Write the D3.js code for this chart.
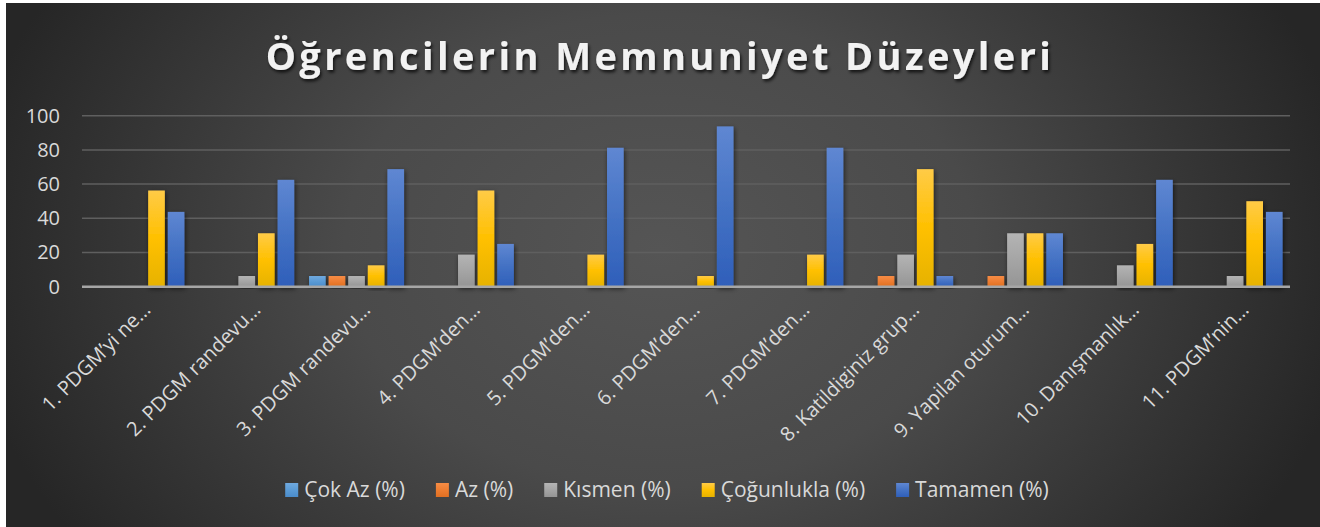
<!DOCTYPE html>
<html>
<head>
<meta charset="utf-8">
<script src="https://cdn.jsdelivr.net/npm/d3@7"></script>
<style>
  body { margin: 0; background: #ffffff; }
  svg { display: block; }
</style>
</head>
<body>
<script>
// Data
var categories = ["1. PDGM’yi ne…", "2. PDGM randevu…", "3. PDGM randevu…", "4. PDGM’den…",
                  "5. PDGM’den…", "6. PDGM’den…", "7. PDGM’den…", "8. Katildiginiz grup…",
                  "9. Yapilan oturum…", "10. Danışmanlık…", "11. PDGM’nin…"];
var seriesNames = ["Çok Az (%)", "Az (%)", "Kısmen (%)", "Çoğunlukla (%)", "Tamamen (%)"];
var cokAz      = [0, 0, 6.25, 0, 0, 0, 0, 0, 0, 0, 0];
var az         = [0, 0, 6.25, 0, 0, 0, 0, 6.25, 6.25, 0, 0];
var kismen     = [0, 6.25, 6.25, 18.75, 0, 0, 0, 18.75, 31.25, 12.5, 6.25];
var cogunlukla = [56.25, 31.25, 12.5, 56.25, 18.75, 6.25, 18.75, 68.75, 31.25, 25, 50];
var tamamen    = [43.75, 62.5, 68.75, 25, 81.25, 93.75, 81.25, 6.25, 31.25, 62.5, 43.75];
var yTicks = [0, 20, 40, 60, 80, 100];

var seriesValues = [cokAz, az, kismen, cogunlukla, tamamen];
var colors = [
    {top: "#6fa9df", mid: "#5b9bd5", bot: "#4a8ccb"},
    {top: "#f68c45", mid: "#ed7d31", bot: "#e06f22"},
    {top: "#b4b4b4", mid: "#a5a5a5", bot: "#959595"},
    {top: "#ffcb47", mid: "#ffc000", bot: "#e6b200"},
    {top: "#5f87d2", mid: "#4472c4", bot: "#2f5fba"}
];

function init()
{
    var w = 1320;
    var h = 527;
    var margin = {left: 82, right: 30, top: 115.7, bottom: 240.3};

    var svg = d3.select("body")
                .append("svg")
                .attr("width", w)
                .attr("height", h);

    var defs = svg.append("defs");

    var bg = defs.append("radialGradient")
                 .attr("id", "bg")
                 .attr("gradientUnits", "userSpaceOnUse")
                 .attr("cx", 660).attr("cy", 250).attr("r", 700)
                 .attr("gradientTransform", "translate(660,250) scale(1,0.75) translate(-660,-250)");
    bg.append("stop").attr("offset", "0%").attr("stop-color", "#555555");
    bg.append("stop").attr("offset", "45%").attr("stop-color", "#4a4a4a");
    bg.append("stop").attr("offset", "100%").attr("stop-color", "#262626");

    colors.forEach(function(c, i) {
        var g = defs.append("linearGradient")
                    .attr("id", "bar" + i)
                    .attr("x1", 0).attr("y1", 0).attr("x2", 0).attr("y2", 1);
        g.append("stop").attr("offset", "0%").attr("stop-color", c.top);
        g.append("stop").attr("offset", "50%").attr("stop-color", c.mid);
        g.append("stop").attr("offset", "100%").attr("stop-color", c.bot);
    });

    var shadow = defs.append("filter").attr("id", "shadow")
                     .attr("x", "-30%").attr("y", "-10%").attr("width", "160%").attr("height", "130%");
    shadow.append("feDropShadow").attr("dx", 1).attr("dy", 2).attr("stdDeviation", 2.5)
          .attr("flood-color", "#000").attr("flood-opacity", 0.6);

    var tshadow = defs.append("filter").attr("id", "tshadow")
                      .attr("x", "-5%").attr("y", "-30%").attr("width", "110%").attr("height", "160%");
    tshadow.append("feDropShadow").attr("dx", 1.5).attr("dy", 2.5).attr("stdDeviation", 1.5)
           .attr("flood-color", "#000").attr("flood-opacity", 0.7);

    svg.append("rect")
       .attr("x", 6).attr("y", 3)
       .attr("width", w - 6).attr("height", h - 3)
       .attr("fill", "url(#bg)");

    // Title
    svg.append("text")
       .attr("x", 660)
       .attr("y", 70)
       .attr("text-anchor", "middle")
       .attr("font-family", "'Open Sans', sans-serif")
       .attr("font-weight", "bold")
       .attr("font-size", 38)
       .attr("letter-spacing", 3.4)
       .attr("fill", "#f2f2f2")
       .attr("filter", "url(#tshadow)")
       .text("Öğrencilerin Memnuniyet Düzeyleri");

    var x0 = d3.scaleBand()
               .domain(categories)
               .range([margin.left, w - margin.right])
               .paddingInner(0.135)
               .paddingOuter(0.0675);

    var x1 = d3.scaleBand()
               .domain(d3.range(seriesNames.length))
               .range([0, x0.bandwidth()])
               .paddingInner(0.15);

    var y = d3.scaleLinear()
              .domain([0, 100])
              .range([h - margin.bottom, margin.top]);

    // Gridlines
    svg.append("g")
       .selectAll("line")
       .data(yTicks.slice(1))
       .enter()
       .append("line")
       .attr("x1", margin.left)
       .attr("x2", w - margin.right)
       .attr("y1", function(d) { return y(d); })
       .attr("y2", function(d) { return y(d); })
       .attr("stroke", "#5f5f5f")
       .attr("stroke-width", 1.5);

    // Y axis labels
    var yAxis = d3.axisLeft(y)
                  .tickValues(yTicks)
                  .tickSize(0)
                  .tickPadding(22);
    var yg = svg.append("g")
                .attr("transform", "translate(" + margin.left + ",0)")
                .call(yAxis);
    yg.select(".domain").remove();
    yg.selectAll("text")
      .attr("font-family", "'Open Sans', sans-serif")
      .attr("font-size", 20)
      .attr("fill", "#d9d9d9");

    // Bars
    var groups = svg.append("g")
                    .selectAll("g")
                    .data(categories)
                    .enter()
                    .append("g")
                    .attr("transform", function(d) { return "translate(" + x0(d) + ",0)"; });

    groups.selectAll("rect")
          .data(function(d, i) {
              return seriesValues.map(function(s, k) { return {k: k, v: s[i]}; });
          })
          .enter()
          .filter(function(d) { return d.v > 0; })
          .append("rect")
          .attr("x", function(d) { return x1(d.k); })
          .attr("y", function(d) { return y(d.v); })
          .attr("width", x1.bandwidth())
          .attr("height", function(d) { return y(0) - y(d.v); })
          .attr("fill", function(d) { return "url(#bar" + d.k + ")"; })
          .attr("filter", "url(#shadow)");

    // Zero line
    svg.append("line")
       .attr("x1", margin.left)
       .attr("x2", w - margin.right)
       .attr("y1", y(0))
       .attr("y2", y(0))
       .attr("stroke", "#a6a6a6")
       .attr("stroke-width", 2.5);

    // X labels
    svg.append("g")
       .selectAll("text")
       .data(categories)
       .enter()
       .append("text")
       .attr("transform", function(d) {
           return "translate(" + (x0(d) + x0.bandwidth() / 2 + 5) + "," + 301 + ") rotate(-45)";
       })
       .attr("text-anchor", "end")
       .attr("dy", "0.7em")
       .attr("font-family", "'Open Sans', sans-serif")
       .attr("font-size", 20)
       .attr("fill", "#d9d9d9")
       .text(function(d) { return d; });

    // Legend
    var legend = svg.append("g");
    var items = legend.selectAll("g")
                      .data(seriesNames)
                      .enter()
                      .append("g");
    items.append("rect")
         .attr("y", 483)
         .attr("width", 13)
         .attr("height", 14)
         .attr("fill", function(d, i) { return "url(#bar" + i + ")"; });
    items.append("text")
         .attr("x", 19)
         .attr("y", 497)
         .attr("font-family", "'Open Sans', sans-serif")
         .attr("font-size", 21)
         .attr("fill", "#d9d9d9")
         .text(function(d) { return d; });

    var gap = 31;
    var widths = [];
    items.each(function() { widths.push(this.getBBox().width); });
    var total = d3.sum(widths) + gap * (widths.length - 1);
    var pos = 667 - total / 2;
    items.attr("transform", function(d, i) {
        var t = "translate(" + pos + ",0)";
        pos += widths[i] + gap;
        return t;
    });
}
window.onload = init;
</script>
</body>
</html>
